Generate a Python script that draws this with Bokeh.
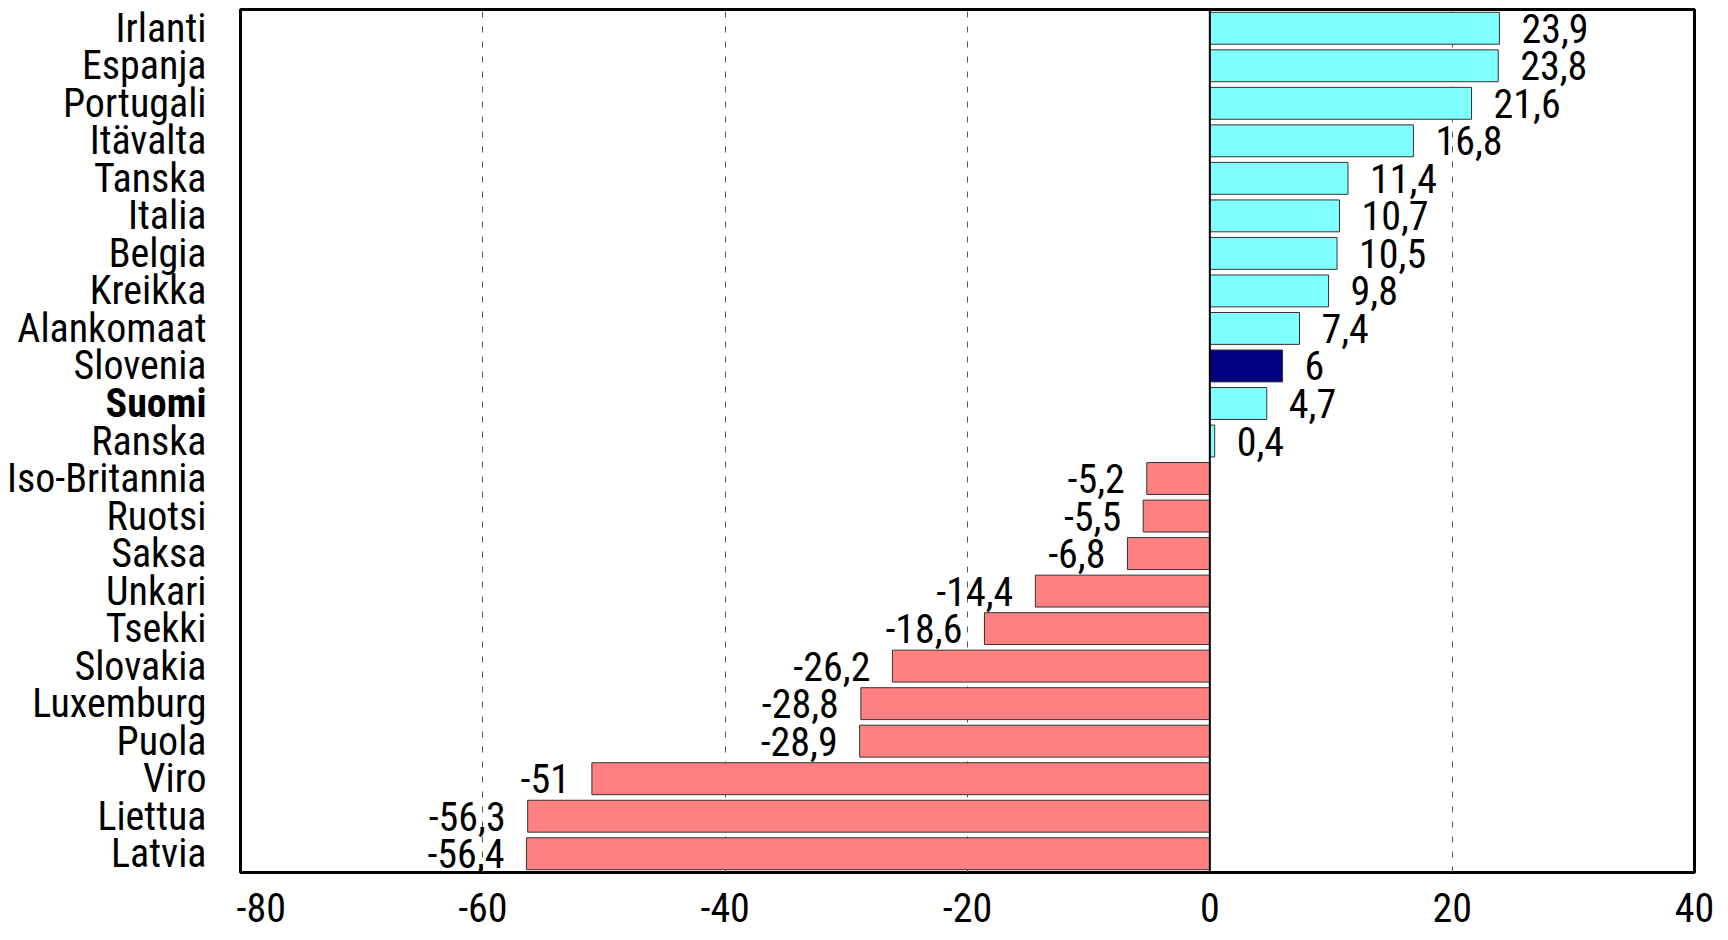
from bokeh.plotting import figure
from bokeh.layouts import row
from bokeh.models import ColumnDataSource, FactorRange, Range1d, FixedTicker, LabelSet, Span
from bokeh.core.properties import value
from bokeh.embed import file_html
from bokeh.resources import INLINE

countries = ["Irlanti", "Espanja", "Portugali", "Itävalta", "Tanska", "Italia", "Belgia",
             "Kreikka", "Alankomaat", "Slovenia", "Suomi", "Ranska", "Iso-Britannia", "Ruotsi",
             "Saksa", "Unkari", "Tsekki", "Slovakia", "Luxemburg", "Puola", "Viro", "Liettua", "Latvia"]
values = [23.9, 23.8, 21.6, 16.8, 11.4, 10.7, 10.5, 9.8, 7.4, 6, 4.7, 0.4, -5.2, -5.5,
          -6.8, -14.4, -18.6, -26.2, -28.8, -28.9, -51, -56.3, -56.4]
highlight = ["Slovenia"]
bold_countries = ["Suomi"]
x_ticks = [-80, -60, -40, -20, 0, 20, 40]
grid_ticks = [-60, -40, -20, 20]

FONT = "Roboto Condensed"
FS = "40px"

def fmt(v):
    return f"{v:g}".replace(".", ",")

colors = ["#000080" if c in highlight else ("#80FFFF" if v >= 0 else "#FF8080")
          for c, v in zip(countries, values)]
styles = ["bold" if c in bold_countries else "normal" for c in countries]

src = ColumnDataSource(dict(country=countries, value=values, color=colors, style=styles))
pos = [i for i, v in enumerate(values) if v >= 0]
neg = [i for i, v in enumerate(values) if v < 0]
src_pos = ColumnDataSource(dict(country=[countries[i] for i in pos], value=[values[i] for i in pos],
                                label=[fmt(values[i]) for i in pos]))
src_neg = ColumnDataSource(dict(country=[countries[i] for i in neg], value=[values[i] for i in neg],
                                label=[fmt(values[i]) for i in neg]))

yr = FactorRange(*countries[::-1])

# label panel on the left (category names, one of them bold)
lp = figure(frame_width=236, frame_height=863, min_border_left=0, min_border_right=0,
            min_border_top=9, min_border_bottom=68, y_range=yr, x_range=Range1d(0, 1),
            output_backend="svg", toolbar_location=None)
lp.outline_line_color = None
lp.xgrid.visible = False
lp.ygrid.visible = False
lp.xaxis.visible = False
lp.yaxis.visible = False
lp.text(x=1, y="country", text="country", source=src, x_offset=-30,
        text_align="right", text_baseline="middle", text_font=value(FONT),
        text_font_size=value(FS), text_font_style="style", text_color="black")

p = figure(frame_width=1454, frame_height=863,
           min_border_left=4, min_border_right=30, min_border_top=9, min_border_bottom=68,
           y_range=yr, x_range=Range1d(x_ticks[0], x_ticks[-1]),
           output_backend="svg", toolbar_location=None)

p.background_fill_color = "white"
p.border_fill_color = "white"
p.outline_line_color = "black"
p.outline_line_width = 3

p.ygrid.visible = False
p.xgrid.ticker = FixedTicker(ticks=grid_ticks)
p.xgrid.grid_line_color = "#555555"
p.xgrid.grid_line_width = 1
p.xgrid.grid_line_dash = "6 9"

p.hbar(y="country", right="value", left=0, height=0.85, source=src,
       fill_color="color", line_color="#333333", line_width=1)

p.add_layout(Span(location=0, dimension="height", line_color="black", line_width=2))

p.yaxis.visible = False

p.xaxis.ticker = FixedTicker(ticks=x_ticks)
p.xaxis.major_label_overrides = {t: str(t) for t in x_ticks}
p.xaxis.axis_line_color = None
p.xaxis.major_tick_line_color = None
p.xaxis.minor_tick_line_color = None
p.xaxis.major_tick_out = 0
p.xaxis.major_label_standoff = 20
p.xaxis.major_label_text_font = FONT
p.xaxis.major_label_text_font_size = FS
p.xaxis.major_label_text_color = "black"

p.add_layout(LabelSet(x="value", y="country", text="label", source=src_pos,
                      x_offset=22, text_align="left", text_baseline="middle",
                      text_font=value(FONT), text_font_size=value(FS), text_color="black"))
p.add_layout(LabelSet(x="value", y="country", text="label", source=src_neg,
                      x_offset=-22, text_align="right", text_baseline="middle",
                      text_font=value(FONT), text_font_size=value(FS), text_color="black"))

layout = row(lp, p, spacing=0)
open("out.html", "w").write(file_html(layout, INLINE))
